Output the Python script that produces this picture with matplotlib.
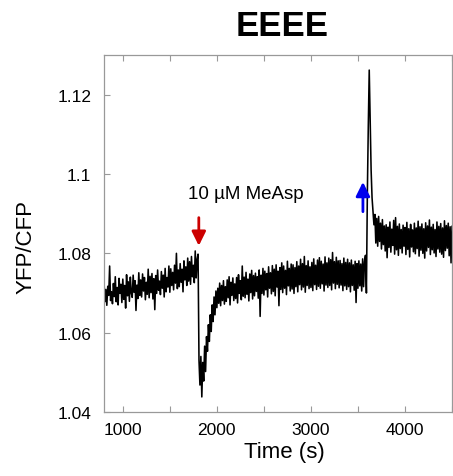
import numpy as np
import matplotlib
matplotlib.use("Agg")
import matplotlib.pyplot as plt

plt.rcParams['font.family'] = ['Liberation Sans', 'DejaVu Sans']

# ---- data, one sample every 10 s from 800 s ----
t_start, t_step = 800, 10
ratio = [
    # 800
    1.0728, 1.0678, 1.0709, 1.0669, 1.0717, 1.0694, 1.0768, 1.0681, 1.0703, 1.0673,
    # 900
    1.0724, 1.0691, 1.0741, 1.0678, 1.0714, 1.0670, 1.0737, 1.0699, 1.0722, 1.0676,
    # 1000
    1.0735, 1.0684, 1.0719, 1.0662, 1.0746, 1.0693, 1.0728, 1.0679, 1.0740, 1.0700,
    # 1100
    1.0689, 1.0745, 1.0702, 1.0731, 1.0656, 1.0720, 1.0686, 1.0751, 1.0694, 1.0733,
    # 1200
    1.0690, 1.0748, 1.0705, 1.0739, 1.0683, 1.0727, 1.0697, 1.0760, 1.0688, 1.0742,
    # 1300
    1.0701, 1.0749, 1.0685, 1.0736, 1.0658, 1.0744, 1.0699, 1.0758, 1.0707, 1.0730,
    # 1400
    1.0696, 1.0754, 1.0712, 1.0745, 1.0690, 1.0762, 1.0703, 1.0739, 1.0715, 1.0768,
    # 1500
    1.0702, 1.0761, 1.0719, 1.0752, 1.0708, 1.0770, 1.0725, 1.0800, 1.0711, 1.0758,
    # 1600
    1.0716, 1.0774, 1.0727, 1.0760, 1.0703, 1.0781, 1.0733, 1.0766, 1.0719, 1.0788,
    # 1700
    1.0730, 1.0779, 1.0722, 1.0792, 1.0741, 1.0770, 1.0726, 1.0806, 1.0738, 1.0785,
    # 1800
    1.0798, 1.0530, 1.0468, 1.0540, 1.0438, 1.0525, 1.0478, 1.0566, 1.0502, 1.0590,
    # 1900
    1.0553, 1.0620, 1.0578, 1.0645, 1.0603, 1.0670, 1.0628, 1.0690, 1.0645, 1.0705,
    # 2000
    1.0663, 1.0712, 1.0674, 1.0725, 1.0668, 1.0719, 1.0681, 1.0731, 1.0672, 1.0716,
    # 2100
    1.0679, 1.0733, 1.0688, 1.0741, 1.0670, 1.0727, 1.0694, 1.0738, 1.0681, 1.0723,
    # 2200
    1.0686, 1.0739, 1.0675, 1.0746, 1.0699, 1.0731, 1.0683, 1.0768, 1.0692, 1.0740,
    # 2300
    1.0688, 1.0752, 1.0697, 1.0735, 1.0680, 1.0748, 1.0701, 1.0757, 1.0685, 1.0744,
    # 2400
    1.0693, 1.0750, 1.0704, 1.0741, 1.0687, 1.0758, 1.0641, 1.0745, 1.0699, 1.0762,
    # 2500
    1.0695, 1.0755, 1.0708, 1.0749, 1.0690, 1.0766, 1.0712, 1.0751, 1.0698, 1.0769,
    # 2600
    1.0704, 1.0760, 1.0693, 1.0771, 1.0715, 1.0755, 1.0668, 1.0764, 1.0709, 1.0776,
    # 2700
    1.0701, 1.0768, 1.0712, 1.0757, 1.0696, 1.0780, 1.0718, 1.0762, 1.0705, 1.0773,
    # 2800
    1.0710, 1.0771, 1.0699, 1.0764, 1.0716, 1.0779, 1.0703, 1.0768, 1.0721, 1.0785,
    # 2900
    1.0708, 1.0774, 1.0715, 1.0792, 1.0702, 1.0769, 1.0719, 1.0781, 1.0711, 1.0766,
    # 3000
    1.0714, 1.0777, 1.0706, 1.0786, 1.0721, 1.0770, 1.0709, 1.0783, 1.0717, 1.0789,
    # 3100
    1.0712, 1.0780, 1.0723, 1.0773, 1.0705, 1.0791, 1.0720, 1.0776, 1.0714, 1.0788,
    # 3200
    1.0719, 1.0784, 1.0708, 1.0802, 1.0725, 1.0779, 1.0711, 1.0790, 1.0722, 1.0781,
    # 3300
    1.0713, 1.0782, 1.0720, 1.0774, 1.0706, 1.0788, 1.0718, 1.0777, 1.0709, 1.0785,
    # 3400
    1.0716, 1.0776, 1.0703, 1.0783, 1.0719, 1.0771, 1.0707, 1.0780, 1.0676, 1.0774,
    # 3500
    1.0712, 1.0781, 1.0718, 1.0773, 1.0705, 1.0786, 1.0716, 1.0779, 1.0795, 1.0700,
    # 3600
    1.0950, 1.1120, 1.1262, 1.1130, 1.1010, 1.0940, 1.0905, 1.0872, 1.0898, 1.0826,
    # 3700
    1.0888, 1.0818, 1.0893, 1.0830, 1.0876, 1.0811, 1.0885, 1.0822, 1.0869, 1.0806,
    # 3800
    1.0872, 1.0789, 1.0866, 1.0815, 1.0879, 1.0803, 1.0861, 1.0820, 1.0883, 1.0798,
    # 3900
    1.0890, 1.0809, 1.0868, 1.0795, 1.0874, 1.0812, 1.0860, 1.0801, 1.0871, 1.0818,
    # 4000
    1.0865, 1.0797, 1.0878, 1.0810, 1.0862, 1.0791, 1.0873, 1.0816, 1.0859, 1.0804,
    # 4100
    1.0876, 1.0799, 1.0864, 1.0812, 1.0881, 1.0793, 1.0867, 1.0808, 1.0874, 1.0800,
    # 4200
    1.0862, 1.0788, 1.0877, 1.0806, 1.0869, 1.0815, 1.0884, 1.0797, 1.0866, 1.0809,
    # 4300
    1.0873, 1.0801, 1.0860, 1.0792, 1.0879, 1.0811, 1.0868, 1.0803, 1.0875, 1.0798,
    # 4400
    1.0864, 1.0790, 1.0882, 1.0807, 1.0870, 1.0813, 1.0876, 1.0794, 1.0867, 1.0776,
    # 4500
    1.0868,
]
time_s = t_start + t_step * np.arange(len(ratio))

x_ticks = [1000, 2000, 3000, 4000]
x_minor = [1500, 2500, 3500, 4500]
y_ticks = [1.04, 1.06, 1.08, 1.10, 1.12]
y_ticklabels = ['1.04', '1.06', '1.08', '1.1', '1.12']

title = 'EEEE'
xlabel = 'Time (s)'
ylabel = 'YFP/CFP'
stim_label = '10 \u00b5M MeAsp'
stim_add_t = 1808      # red arrow (addition)
stim_remove_t = 3553   # blue arrow (removal)

# ---- figure ----
W, H = 453, 477
fig = plt.figure(figsize=(W / 100, H / 100), dpi=100)
ax = fig.add_axes([104 / W, 1 - 413 / H, 348 / W, 357 / H])

ax.plot(time_s, ratio, color='black', lw=1.15)

ax.set_xlim(800, 4500)
ax.set_ylim(1.04, 1.13)
ax.set_xticks(x_ticks)
ax.set_xticks(x_minor, minor=True)
ax.set_yticks(y_ticks)
ax.set_yticklabels(y_ticklabels)

spine_col = '#999999'
for s in ax.spines.values():
    s.set_color(spine_col)
    s.set_linewidth(0.9)

ax.tick_params(axis='x', which='both', direction='in', top=True, bottom=True,
               length=4, width=0.8, color=spine_col, labelsize=12.5, pad=7)
ax.tick_params(axis='y', which='both', direction='in', left=True, right=False,
               length=4, width=0.8, color=spine_col, labelsize=12.5, pad=9)

# annotations
ax.text(2305, 1.0950, stim_label, ha='center', va='center', fontsize=13.5)
ax.annotate('', xy=(stim_add_t, 1.0819), xytext=(stim_add_t, 1.0890),
            arrowprops=dict(arrowstyle='-|>,head_width=0.42,head_length=0.85',
                            color='#cc0000', lw=2.0, mutation_scale=10,
                            shrinkA=0, shrinkB=0))
ax.annotate('', xy=(stim_remove_t, 1.0980), xytext=(stim_remove_t, 1.0905),
            arrowprops=dict(arrowstyle='-|>,head_width=0.42,head_length=0.85',
                            color='#0000ee', lw=2.0, mutation_scale=10,
                            shrinkA=0, shrinkB=0))

fig.text(282.5 / W, 1 - 26 / H, title, ha='center', va='center',
         fontsize=25, fontweight='bold')
fig.text(284 / W, 1 - 453 / H, xlabel, ha='center', va='center', fontsize=16)
fig.text(26 / W, 1 - 247 / H, ylabel, ha='center', va='center', fontsize=16,
         rotation=90)

fig.savefig('out.png', dpi=100)
